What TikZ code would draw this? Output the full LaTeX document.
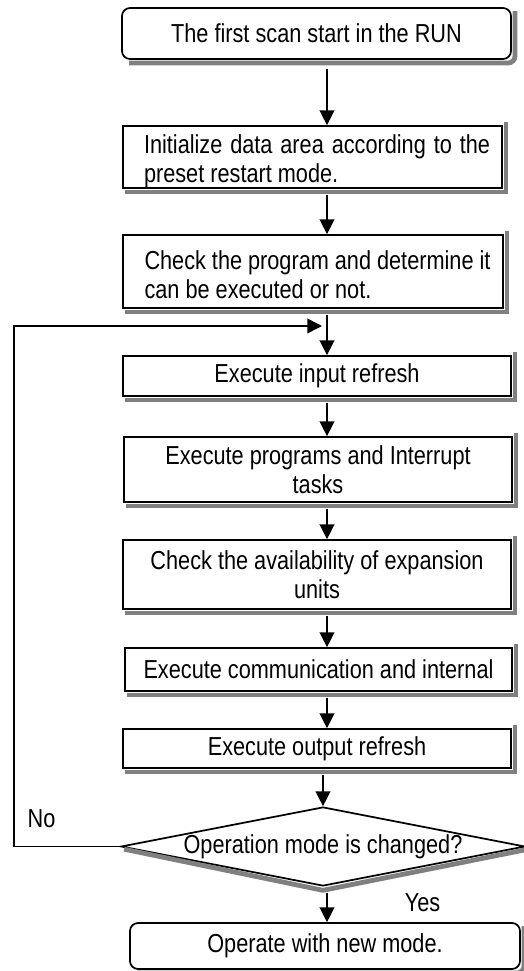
\documentclass[tikz,border=0pt]{standalone}
\usepackage{fontspec}
\setmainfont{Liberation Sans}[FakeStretch=0.835]
\usetikzlibrary{arrows.meta,shapes.geometric}
\definecolor{shadowgray}{RGB}{128,128,128}
\begin{document}
\begin{tikzpicture}[x=0.75pt,y=-0.75pt,
  every node/.style={inner sep=0pt, font=\fontsize{19.5pt}{21.75pt}\selectfont},
  stepbox/.style={draw, line width=1.3pt, fill=white, align=center},
  termbox/.style={stepbox, rounded corners=6pt},
  decision/.style={draw, line width=1.3pt, fill=white, shape=diamond, aspect=5.1},
  shadowline/.style={draw=shadowgray, line width=3.6pt, line join=miter},
  arr/.style={line width=1.1pt, -{Triangle[length=11pt,width=11pt]}},
  flow/.style={arr, shorten <=4.5pt}]
\useasboundingbox (0,0) rectangle (524,971);

\node[termbox, minimum width=291.75pt, minimum height=38.25pt] (b1) at (316.5,33.5) {The first scan start in the RUN};
\node[stepbox, minimum width=284.25pt, minimum height=46.5pt] (b2) at (312.5,157)
  {\rule{0pt}{20pt}\hspace*{6.75pt}\makebox[259.5pt][s]{Initialize data area according to the}\\\hspace*{6.75pt}\makebox[259.5pt][l]{preset restart mode.}};
\node[stepbox, minimum width=285pt, minimum height=54.75pt] (b3) at (313,271.5)
  {\rule{0pt}{19pt}\hspace*{6.75pt}\makebox[259.5pt][s]{Check the program and determine it}\\\hspace*{6.75pt}\makebox[259.5pt][l]{can be executed or not.}};
\node[stepbox, minimum width=291pt, minimum height=30pt] (b4) at (317,376) {Execute input refresh};
\node[stepbox, minimum width=291pt, minimum height=48.75pt] (b5) at (318,469.5) {Execute programs and Interrupt\\tasks};
\node[stepbox, minimum width=291pt, minimum height=51.75pt] (b6) at (317,574.5) {Check the availability of expansion\\units};
\node[stepbox, minimum width=290.25pt, minimum height=32.25pt] (b7) at (318.5,669.5) {Execute communication and internal};
\node[stepbox, minimum width=291pt, minimum height=29.25pt] (b8) at (317,748.5) {Execute output refresh};
\node[decision, minimum width=303pt, minimum height=59.25pt] (dia) at (323,846.5) {Operation mode is changed?};
\node[termbox, minimum width=292.5pt, minimum height=34.5pt] (b9) at (325,946) {Operate with new mode.};

% shadows along the lower and right sides of each shape
\foreach \n in {b2,b3,b4,b5,b6,b7,b8}{
  \draw[shadowline] ([shift={(2.4pt,-2.4pt)}]\n.south west) -- ([shift={(2.4pt,-2.4pt)}]\n.south east)
    -- ([shift={(2.4pt,2.4pt)}]\n.north east);
}
\draw[shadowline] ([shift={(6pt,-2.4pt)}]b1.south west) -- ([shift={(-3pt,-2.4pt)}]b1.south east)
  to[out=0,in=-90] ([shift={(2.4pt,3pt)}]b1.south east) -- ([shift={(2.4pt,-3pt)}]b1.north east);
\draw[shadowline] ([shift={(6pt,-2.4pt)}]b9.south west) -- ([shift={(-3pt,-2.4pt)}]b9.south east)
  to[out=0,in=-90] ([shift={(2.4pt,3pt)}]b9.south east) -- ([shift={(2.4pt,-3pt)}]b9.north east);
\draw[shadowline] ([shift={(3pt,-2pt)}]dia.west) -- ([shift={(0pt,-2.6pt)}]dia.south) -- ([shift={(2pt,-2pt)}]dia.east);

\node (no) at (41.5,818.5) {No};
\node (yes) at (422.5,902.5) {Yes};

\coordinate (ax) at (327,0);
\coordinate (lx) at (14,0);
\coordinate (jt) at (322,326);

\draw[flow, shorten <=6.75pt] (b1.south -| ax) -- (b2.north -| ax);
\draw[flow] (b2.south -| ax) -- (b3.north -| ax);
\draw[flow] (b3.south -| ax) -- (b4.north -| ax);
\draw[flow] (b4.south -| ax) -- (b5.north -| ax);
\draw[flow] (b5.south -| ax) -- (b6.north -| ax);
\draw[flow] (b6.south -| ax) -- (b7.north -| ax);
\draw[flow] (b7.south -| ax) -- (b8.north -| ax);
\draw[flow] (b8.south -| dia.north) -- (dia.north);
\draw[flow] (dia.south -| ax) -- (b9.north -| ax);
\draw[arr] (dia.west) -- (dia.west -| lx) -- (jt -| lx) -- (jt);
\end{tikzpicture}
\end{document}
